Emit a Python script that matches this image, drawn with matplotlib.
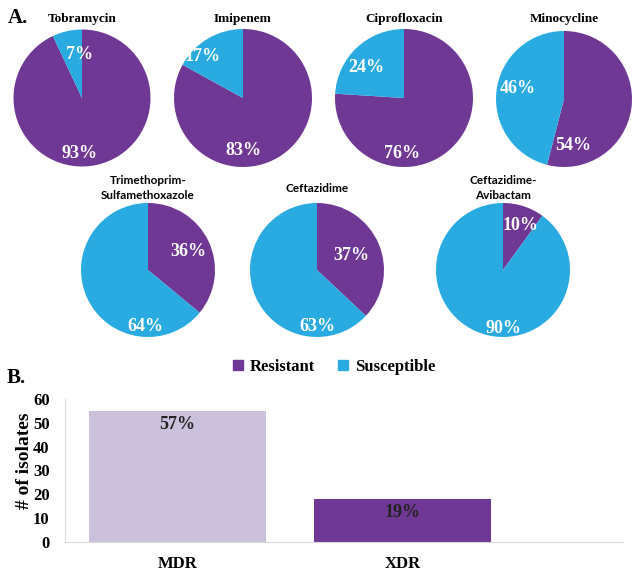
import matplotlib
matplotlib.use("Agg")
from matplotlib import pyplot as plt
from matplotlib.patches import Patch

# panel A: % resistant / susceptible per antibiotic
drugs = ["Tobramycin", "Imipenem", "Ciprofloxacin", "Minocycline",
         "Trimethoprim-\nSulfamethoxazole", "Ceftazidime", "Ceftazidime-\nAvibactam"]
resistant = [93, 83, 76, 54, 36, 37, 10]
susceptible = [7, 17, 24, 46, 64, 63, 90]

# panel B: number of isolates
groups = ["MDR", "XDR"]
isolates = [55, 18]
isolate_pct = ["57%", "19%"]

PURPLE = "#6f3895"
BLUE = "#29abe2"
LIGHT = "#cbc1dd"
SERIF = "Liberation Serif"

W, H = 643, 574
fig = plt.figure(figsize=(W / 100, H / 100), dpi=100)


def px_axes(x0, y0, x1, y1):
    # pixel box (top-left origin) -> figure axes
    return fig.add_axes([x0 / W, 1 - y1 / H, (x1 - x0) / W, (y1 - y0) / H])


# pie layout: centre x, centre y, radius (pixels)
pie_boxes = [(82, 98, 68.5), (243, 98, 69), (404, 98, 69), (564, 99, 68),
             (148, 270, 67), (317, 270, 67), (503, 270, 67)]
# label spots in units of radius: (resistant xy, susceptible xy)
label_spots = [((-0.03, -0.81), (-0.03, 0.64)),
               ((0.0, -0.76), (-0.59, 0.60)),
               ((-0.03, -0.80), (-0.55, 0.44)),
               ((0.13, -0.68), (-0.68, 0.15)),
               ((0.60, 0.27), (-0.04, -0.85)),
               ((0.51, 0.22), (0.0, -0.85)),
               ((0.26, 0.66), (0.0, -0.87))]

for i, (name, r, s) in enumerate(zip(drugs, resistant, susceptible)):
    cx, cy, rad = pie_boxes[i]
    ax = px_axes(cx - rad, cy - rad, cx + rad, cy + rad)
    ax.pie([r, s], colors=[PURPLE, BLUE], startangle=90, counterclock=False,
           wedgeprops=dict(linewidth=0))
    ax.set_xlim(-1, 1)
    ax.set_ylim(-1, 1)
    ax.set_aspect("equal")
    ax.axis("off")
    (rx, ry), (sx, sy) = label_spots[i]
    for (tx, ty), v in [((rx, ry), r), ((sx, sy), s)]:
        ax.text(tx, ty, f"{v}%", ha="center", va="center", color="white",
                fontsize=13, fontweight="bold", family=SERIF)
    if i < 4:
        fig.text(cx / W, 1 - 19 / H, name, ha="center", va="center",
                 fontsize=9.5, fontweight="bold", family=SERIF)
    else:
        fig.text(cx / W, 1 - 188 / H, name, ha="center", va="center",
                 fontsize=8.5, fontweight="bold", family="Lato", linespacing=1.35)

fig.text(18 / W, 1 - 18 / H, "A.", ha="center", va="center",
         fontsize=15, fontweight="bold", family=SERIF)
fig.text(16 / W, 1 - 378 / H, "B.", ha="center", va="center",
         fontsize=15, fontweight="bold", family=SERIF)

handles = [Patch(color=PURPLE, label="Resistant"), Patch(color=BLUE, label="Susceptible")]
fig.legend(handles=handles, loc="center", bbox_to_anchor=(334 / W, 1 - 367 / H),
           ncol=2, frameon=False, handlelength=0.6, handleheight=0.6,
           handletextpad=0.4, columnspacing=1.4,
           prop=dict(family=SERIF, weight="bold", size=12))

# panel B bar chart
bx = px_axes(65, 399, 623, 542)
bars = bx.bar(range(len(groups)), isolates, width=0.79, color=[LIGHT, PURPLE])
bx.set_xlim(-0.5, 1.98)
bx.set_ylim(0, 60)
bx.set_yticks(range(0, 61, 10))
bx.set_xticks(range(len(groups)))
bx.set_xticklabels(groups)
for lab in bx.get_xticklabels() + bx.get_yticklabels():
    lab.set_family(SERIF)
    lab.set_fontweight("bold")
    lab.set_fontsize(12)
bx.tick_params(axis="y", length=0, pad=11)
bx.tick_params(axis="x", length=0, pad=10)
bx.set_ylabel("# of isolates", family=SERIF, fontweight="bold", fontsize=14)
bx.yaxis.set_label_coords(-0.057, 0.57)
for side in ["top", "right"]:
    bx.spines[side].set_visible(False)
for side in ["left", "bottom"]:
    bx.spines[side].set_color("#d9d9d9")
for b, pct in zip(bars, isolate_pct):
    bx.text(b.get_x() + b.get_width() / 2, b.get_height() - 5.5, pct, ha="center",
            va="center", fontsize=13, fontweight="bold", family=SERIF, color="#222222")

fig.savefig("out.png", dpi=100)
